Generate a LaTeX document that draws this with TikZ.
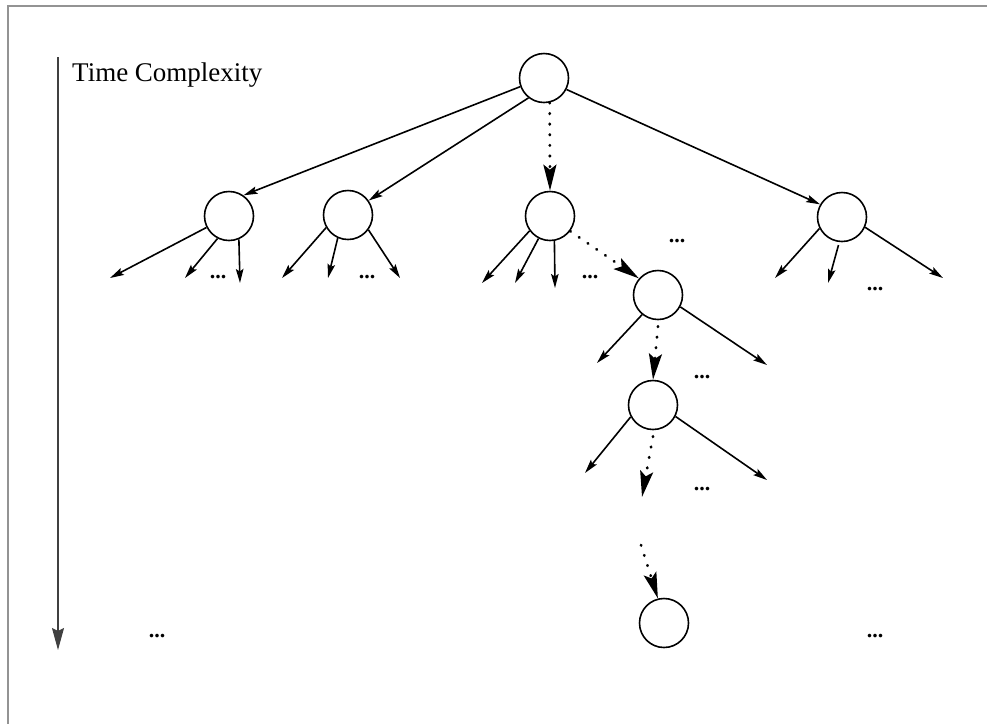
\documentclass[tikz,border=0pt]{standalone}
\usepackage{fontspec}
\setmainfont{Liberation Serif}
\usetikzlibrary{arrows.meta,calc}
\begin{document}
\begin{tikzpicture}[x=1pt,y=-1pt,
  nd/.style={circle,draw,line width=1.6pt,minimum size=49pt,inner sep=0pt},
  arr/.style={line width=1.6pt,-{Stealth[length=14pt,width=7.5pt,inset=2.5pt]}},
  darr/.style={line width=2.8pt,dash pattern=on 0.6pt off 10pt,line cap=round,-{Stealth[length=26pt,width=13pt,inset=5pt,line cap=butt,sep=0pt]}},
  ell/.style={font=\bfseries\fontsize{22}{24}\selectfont,inner sep=0pt}]
\useasboundingbox (0,0) rectangle (987,724);
% frame
\draw[gray!85,line width=2pt] (987,5.5) -- (7.5,5.5) -- (7.5,724);
% time axis
\coordinate (t0) at (58,57);
\coordinate (t1) at (58,650);
\draw[line width=1.3pt,black!75,-{Stealth[length=22pt,width=12pt,inset=3pt]}] (t0) -- (t1);
\node[anchor=base west,inner sep=0pt,font=\fontsize{27}{30}\selectfont] (lbl) at (72,81) {Time Complexity};
% nodes
\node[nd] (R) at (544,78) {};
\node[nd] (A) at (229,216) {};
\node[nd] (B) at (348,215) {};
\node[nd] (C) at (550,216) {};
\node[nd] (D) at (842,217) {};
\node[nd] (E) at (658,295) {};
\node[nd] (F) at (653,405) {};
\node[nd] (G) at (664,623) {};
% root edges
\draw[arr] (R.200) -- (A.55);
\draw[arr] (R.232) -- (B.35);
\draw[arr] (R.333) -- (D.150);
\draw[darr] (R.283) -- (C.north);
% A children
\coordinate (a1) at (110,278); \coordinate (a2) at (185,278); \coordinate (a3) at (240,283);
\draw[arr] (A.207) -- (a1);
\draw[arr] (A.243) -- (a2);
\draw[arr] (A.293) -- (a3);
\node[ell] (ea) at (218,277) {...};
% B children
\coordinate (b1) at (282,278); \coordinate (b2) at (328,278); \coordinate (b3) at (400,278);
\draw[arr] (B.210) -- (b1);
\draw[arr] (B.246) -- (b2);
\draw[arr] (B.324) -- (b3);
\node[ell] (eb) at (367,277) {...};
% C children
\coordinate (c1) at (482,283); \coordinate (c2) at (515,283); \coordinate (c3) at (555,288);
\draw[arr] (C.216) -- (c1);
\draw[arr] (C.243) -- (c2);
\draw[arr] (C.280) -- (c3);
\node[ell] (ec) at (590,277) {...};
\node[ell] (ec2) at (677,241) {...};
\draw[darr] (C.323) -- (E.139);
% D children
\coordinate (d1) at (775,278); \coordinate (d2) at (828,283); \coordinate (d3) at (943,278);
\draw[arr] (D.207) -- (d1);
\draw[arr] ($(D.262)+(0,3)$) -- (d2);
\draw[arr] (D.336) -- (d3);
\node[ell] (ed) at (875,289) {...};
% E children
\coordinate (e1) at (597,363); \coordinate (e2) at (767,365);
\draw[arr] (E.231) -- (e1);
\draw[arr] (E.332) -- (e2);
\draw[darr] ($(E.south)+(0,6)$) -- (F.north);
\node[ell] (ee) at (702,377) {...};
% F children
\coordinate (f1) at (585,473); \coordinate (f2) at (767,480); \coordinate (f3) at (642,497);
\draw[arr] (F.208) -- (f1);
\draw[arr] (F.333) -- (f2);
\draw[darr] ($(F.south)+(0,6)$) -- (f3);
\node[ell] (ef) at (702,489) {...};
% to G
\coordinate (g0) at (641,545);
\draw[darr] (g0) -- (G.104);
% bottom ellipses
\node[ell] (el) at (157,636) {...};
\node[ell] (er) at (875,636) {...};
\end{tikzpicture}
\end{document}
